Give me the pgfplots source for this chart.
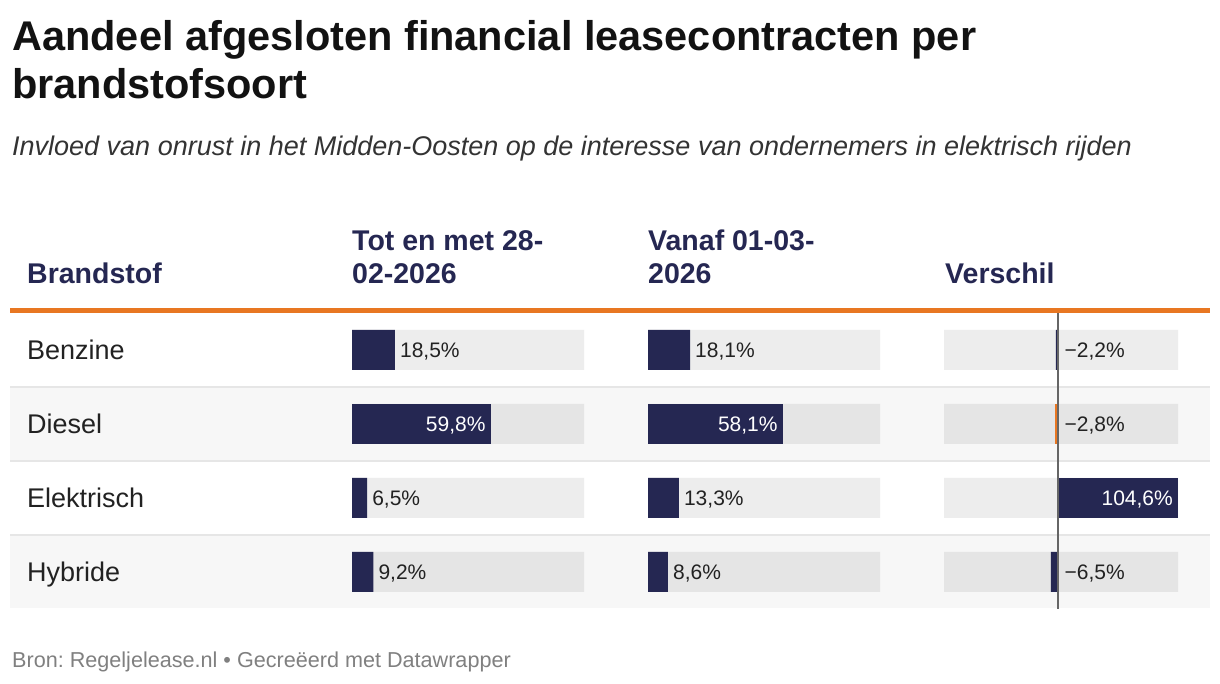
\documentclass[border=0pt]{standalone}
\usepackage{fontspec}
\setmainfont{Liberation Sans}
\usepackage{pgfplots}
\pgfplotsset{compat=1.18}

\definecolor{navy}{RGB}{37,39,82}
\definecolor{dworange}{RGB}{232,119,34}
\definecolor{rowgray}{HTML}{F7F7F7}
\definecolor{sepgray}{HTML}{E6E6E6}
\definecolor{bgA}{HTML}{EDEDED}
\definecolor{bgB}{HTML}{E5E5E5}
\definecolor{txt}{HTML}{222222}
\definecolor{zerogray}{HTML}{666666}

\pgfplotsset{
  cellaxis/.style={scale only axis, width=232pt, height=296pt,
    ymin=-0.5, ymax=3.5, y dir=reverse, hide axis, clip=false,
    anchor=north west},
  bgbar/.style={xbar, bar width=40pt, bar shift=0pt, draw=none, fill=#1},
  valbar/.style={xbar, bar width=40pt, bar shift=0pt, draw=none, fill=#1},
  lab out/.style={nodes near coords, point meta=explicit symbolic,
    nodes near coords align={west},
    every node near coord/.style={anchor=west, inner sep=0pt, xshift=#1, yshift=-1.5pt,
      text=txt, font=\fontsize{21}{21}\selectfont}},
  lab out/.default=5pt,
  lab in/.style={nodes near coords, point meta=explicit symbolic,
    nodes near coords align={east},
    every node near coord/.style={anchor=east, inner sep=0pt, xshift=-5pt, yshift=-1.5pt,
      text=white, font=\fontsize{21}{21}\selectfont}},
}

\begin{document}
\frenchspacing
\begin{tikzpicture}[x=1pt,y=1pt]
\useasboundingbox (0,0) rectangle (1220,684);
\fill[white] (0,0) rectangle (1220,684);

% row stripes, separators, header rule
\fill[rowgray] (10,684-461) rectangle (1210,684-387);
\fill[rowgray] (10,684-608) rectangle (1210,684-535);
\foreach \py in {387,461,535}
  \draw[sepgray, line width=2pt] (10,684-\py) -- (1210,684-\py);
\fill[dworange] (10,684-313) rectangle (1210,684-308);

% titles
\begin{scope}[every node/.style={anchor=base west, inner sep=0pt}]
\node[font=\bfseries\fontsize{41.5}{41.5}\selectfont, text=black!93] at (12,684-51)
  {Aandeel afgesloten financial leasecontracten per};
\node[font=\bfseries\fontsize{41.5}{41.5}\selectfont, text=black!93] at (12,684-99)
  {brandstofsoort};
\node[font=\itshape\fontsize{27}{27}\selectfont, text=black!80] at (12,684-156)
  {Invloed van onrust in het Midden-Oosten op de interesse van ondernemers in elektrisch rijden};

% column headers
\node[font=\bfseries\fontsize{28.5}{28.5}\selectfont, text=navy] at (27,684-284) {Brandstof};
\node[font=\bfseries\fontsize{28.5}{28.5}\selectfont, text=navy] at (352,684-251) {Tot en met 28-};
\node[font=\bfseries\fontsize{28.5}{28.5}\selectfont, text=navy] at (352,684-284) {02-2026};
\node[font=\bfseries\fontsize{28.5}{28.5}\selectfont, text=navy] at (648,684-251) {Vanaf 01-03-};
\node[font=\bfseries\fontsize{28.5}{28.5}\selectfont, text=navy] at (648,684-284) {2026};
\node[font=\bfseries\fontsize{28.5}{28.5}\selectfont, text=navy] at (945,684-284) {Verschil};

% row names
\node[font=\fontsize{27}{27}\selectfont, text=txt] at (27,684-360) {Benzine};
\node[font=\fontsize{27}{27}\selectfont, text=txt] at (27,684-434) {Diesel};
\node[font=\fontsize{27}{27}\selectfont, text=txt] at (27,684-508) {Elektrisch};
\node[font=\fontsize{27}{27}\selectfont, text=txt] at (27,684-582) {Hybride};

% footer
\node[font=\fontsize{21.6}{21.6}\selectfont, text=black!50] at (12,684-668)
  {Bron: Regeljelease.nl • Gecreëerd met Datawrapper};
\end{scope}

% Tot en met 28-02-2026
\begin{axis}[cellaxis, at={(352pt,371pt)}, xmin=0, xmax=100]
\addplot[bgbar=bgA] coordinates {(100,0) (100,2)};
\addplot[bgbar=bgB] coordinates {(100,1) (100,3)};
\addplot[valbar=navy, lab out] coordinates {(18.5,0) [18,5\%] (6.5,2) [6,5\%] (9.2,3) [9,2\%]};
\addplot[valbar=navy, lab in] coordinates {(59.8,1) [59,8\%]};
\end{axis}

% Vanaf 01-03-2026
\begin{axis}[cellaxis, at={(648pt,371pt)}, xmin=0, xmax=100]
\addplot[bgbar=bgA] coordinates {(100,0) (100,2)};
\addplot[bgbar=bgB] coordinates {(100,1) (100,3)};
\addplot[valbar=navy, lab out] coordinates {(18.1,0) [18,1\%] (13.3,2) [13,3\%] (8.6,3) [8,6\%]};
\addplot[valbar=navy, lab in] coordinates {(58.1,1) [58,1\%]};
\end{axis}

% Verschil
\begin{axis}[cellaxis, width=234pt, at={(944pt,371pt)}, xmin=-100, xmax=104.6]
\addplot[bgbar=bgA] coordinates {(-100,0) (104.6,0) (-100,2) (104.6,2)};
\addplot[bgbar=bgB] coordinates {(-100,1) (104.6,1) (-100,3) (104.6,3)};
\addplot[valbar=navy] coordinates {(-2.2,0) (-6.5,3)};
\addplot[valbar=dworange] coordinates {(-2.8,1)};
\addplot[valbar=navy, lab in] coordinates {(104.6,2) [104,6\%]};
\addplot[only marks, mark=*, mark size=0pt, mark options={draw=none, fill=none}, lab out=6pt]
  coordinates {(0,0) [−2,2\%] (0,1) [−2,8\%] (0,3) [−6,5\%]};
\draw[zerogray, line width=2pt] (axis cs:0,-0.5) -- (axis cs:0,3.5);
\end{axis}
\end{tikzpicture}
\end{document}
